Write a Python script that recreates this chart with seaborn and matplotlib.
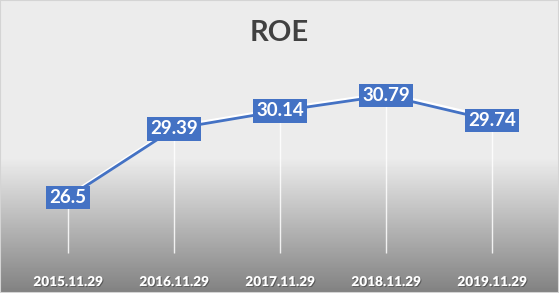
import numpy as np
import pandas as pd
import matplotlib
matplotlib.use("Agg")
import matplotlib.pyplot as plt
import matplotlib.patheffects as pe
from matplotlib.patches import Rectangle
import seaborn as sns

categories = ["2015.11.29", "2016.11.29", "2017.11.29", "2018.11.29", "2019.11.29"]
roe = [26.5, 29.39, 30.14, 30.79, 29.74]
value_labels = ["26.5", "29.39", "30.14", "30.79", "29.74"]
title = "ROE"

sns.set_style("white")
plt.rcParams["font.family"] = ["Lato", "DejaVu Sans"]

W, H = 559, 293
fig = plt.figure(figsize=(W / 100, H / 100), dpi=100)

# background gradient
bg = fig.add_axes([0, 0, 1, 1], zorder=-10)
rows = np.arange(H)
g_start, g_end = 157, 291
top_c, bot_c = 236 / 255, 130 / 255
t = np.clip((rows - g_start) / (g_end - g_start), 0, 1)
col = top_c - (top_c - bot_c) * t
img = np.repeat(col[:, None], W, axis=1)
bg.imshow(img, cmap="gray", vmin=0, vmax=1, aspect="auto", extent=[0, W, H, 0])
bg.set_xlim(0, W)
bg.set_ylim(H, 0)
bg.axis("off")

ax = fig.add_axes([15 / W, 36 / H, 530 / W, 190.3 / H])
ax.set_facecolor("none")

df = pd.DataFrame({"x": np.arange(len(categories)), "roe": roe})
blue = "#4472C4"

# drop lines
ax.vlines(df["x"], 24.17, df["roe"], color="white", lw=1.0, alpha=0.85, zorder=1)

sns.lineplot(data=df, x="x", y="roe", ax=ax, color=blue, lw=2.0, zorder=3,
             path_effects=[pe.SimpleLineShadow(offset=(0.6, 1.6), shadow_color="white", alpha=1.0),
                           pe.Normal()])

for xi, yi, lab in zip(df["x"], df["roe"], value_labels):
    ax.text(xi, yi, lab, ha="center", va="center", color="white", fontsize=13.5,
            fontweight="bold", zorder=5,
            bbox=dict(boxstyle="square,pad=0.18", facecolor=blue, edgecolor="none"))

ax.set_xlim(-0.5, len(categories) - 0.5)
ax.set_ylim(24, 32)
ax.set_xticks(df["x"])
ax.set_xticklabels(categories, fontsize=9.8, fontweight="heavy", color="white")
for tl in ax.get_xticklabels():
    tl.set_path_effects([pe.SimplePatchShadow(offset=(0.7, -0.7), shadow_rgbFace="black", alpha=0.35),
                         pe.Normal()])
ax.tick_params(axis="x", length=0, pad=13)
ax.set_yticks([])
ax.set_xlabel("")
ax.set_ylabel("")
for s in ax.spines.values():
    s.set_visible(False)

fig.text(0.5, 1 - 33 / H, title, ha="center", va="center", fontsize=21,
         fontweight="bold", color="#404040")

fig.patches.append(Rectangle((0, 0), 1, 1, transform=fig.transFigure, fill=False,
                             edgecolor="#d4d4d4", lw=1.5, zorder=20))

fig.savefig("out.png", dpi=100)
